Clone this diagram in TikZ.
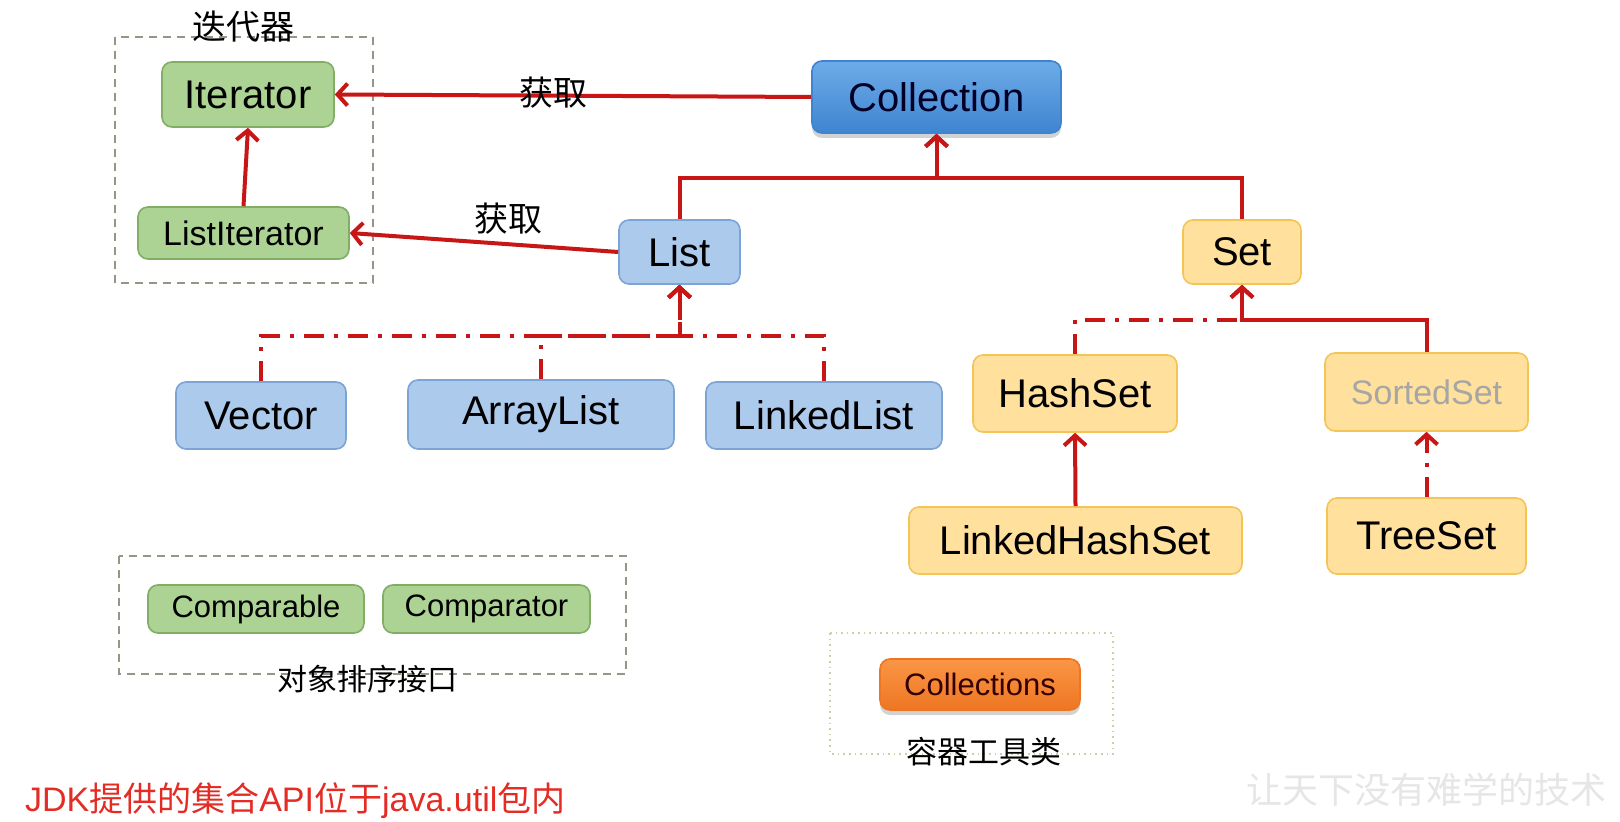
\documentclass[tikz,border=0pt]{standalone}
\usepackage{fontspec}
\setmainfont{Liberation Sans}
\newfontfamily\cjk{Noto Sans CJK SC}
\usetikzlibrary{arrows.meta,shadows}
\definecolor{linered}{RGB}{200,22,22}
\definecolor{grnfill}{RGB}{172,210,148}
\definecolor{grnline}{RGB}{128,174,100}
\definecolor{blufill}{RGB}{172,202,236}
\definecolor{bluline}{RGB}{124,164,212}
\definecolor{colltop}{RGB}{110,172,232}
\definecolor{collbot}{RGB}{62,132,208}
\definecolor{yelfill}{RGB}{255,224,156}
\definecolor{yelline}{RGB}{244,196,86}
\definecolor{orgtop}{RGB}{250,150,70}
\definecolor{orgbot}{RGB}{238,118,34}
\definecolor{framegray}{RGB}{150,150,136}
\definecolor{frameolive}{RGB}{206,206,170}
\definecolor{notered}{RGB}{228,44,36}
\definecolor{markgray}{RGB}{230,230,230}
\begin{document}
\begin{tikzpicture}[x=0.5pt,y=-0.5pt]
    \tikzstyle{box}=[rounded corners=5pt, inner sep=0pt, line width=0.8pt]
    \tikzstyle{grn}=[box, fill=grnfill, draw=grnline]
    \tikzstyle{blu}=[box, fill=blufill, draw=bluline]
    \tikzstyle{yel}=[box, fill=yelfill, draw=yelline]
    \tikzstyle{arr}=[draw=linered, line width=2pt, -{Straight Barb[length=5pt,width=11pt]}]
    \tikzstyle{dd}=[dash pattern=on 10pt off 5pt on 2pt off 5pt]
    \tikzstyle{frame}=[draw=framegray, line width=0.7pt, dash pattern=on 4pt off 3pt]
    \tikzstyle{big}=[font=\fontsize{20pt}{24pt}\selectfont]
    \tikzstyle{mid}=[font=\fontsize{17pt}{20pt}\selectfont]
    \tikzstyle{sml}=[font=\fontsize{15.5pt}{18pt}\selectfont]
    \fill[white] (0,0) rectangle (1620,822);
    \useasboundingbox (0,0) rectangle (1620,822);
    % iterators
    \draw[frame] (115,37) rectangle (373,283);
    \node[mid] (itlabel) at (243,27) {\cjk 迭代器};
    \node[grn, big, minimum width=86pt, minimum height=32.5pt] (iter) at (248,94.5) {Iterator};
    \node[grn, mid, minimum width=105.5pt, minimum height=26pt] (listit) at (243.5,233) {ListIterator};
    \draw[arr] (listit.north) -- (iter.south);
    % top of the tree
    \node[box, big, top color=colltop, bottom color=collbot, draw=collbot,
      drop shadow={opacity=0.35, shadow xshift=0pt, shadow yshift=-2.5pt},
      minimum width=124.5pt, minimum height=36pt, text=black!85!blue] (coll) at (936.5,97) {Collection};
    \node[blu, big, minimum width=60.5pt, minimum height=32pt] (list) at (679.5,252) {List};
    \node[yel, big, minimum width=59pt, minimum height=32pt] (set) at (1242,252) {Set};
    \coordinate (jc) at (936.5,178);
    \draw[arr] (list.north) |- (jc) -- (coll.south);
    \draw[arr] (set.north) |- (jc) -- (coll.south);
    % getting iterators
    \draw[arr] (coll.west) -- (iter.east);
    \node[mid] (get1) at (553,93) {\cjk 获取};
    \draw[arr] (list.west) -- (listit.east);
    \node[mid] (get2) at (508,219) {\cjk 获取};
    % lists
    \node[blu, big, minimum width=85pt, minimum height=33.5pt] (vector) at (261,415.5) {Vector};
    \node[blu, big, minimum width=133pt, minimum height=34.5pt] (alist) at (541,414.5) {ArrayList};
    \node[blu, big, minimum width=118pt, minimum height=33.5pt] (llist) at (824,415.5) {LinkedList};
    \coordinate (jl) at (679.5,336);
    \draw[arr, dd] (vector.north) |- (jl) -- (list.south);
    \draw[arr, dd] (alist.north) |- (jl) -- (list.south);
    \draw[arr, dd] (llist.north) |- (jl) -- (list.south);
    % sets
    \node[yel, big, minimum width=102pt, minimum height=38.5pt] (hset) at (1075,393.5) {HashSet};
    \node[yel, mid, minimum width=101.5pt, minimum height=39pt, text=black!35] (sset) at (1426.5,392) {SortedSet};
    \node[yel, big, minimum width=166.5pt, minimum height=33.5pt] (lhset) at (1075.5,540.5) {LinkedHashSet};
    \node[yel, big, minimum width=99.5pt, minimum height=38pt] (tset) at (1426.5,536) {TreeSet};
    \coordinate (js) at (1242,320);
    \draw[arr, dd] (hset.north) |- (js) -- (set.south);
    \draw[arr] (sset.north) |- (js) -- (set.south);
    \draw[arr] (lhset.north) -- (hset.south);
    \draw[arr, dd] (tset.north) -- (sset.south);
    % ordering
    \draw[frame] (119,556) rectangle (626,674);
    \node[grn, sml, minimum width=108pt, minimum height=24pt] (cmpble) at (256,609) {Comparable};
    \node[grn, sml, minimum width=103.5pt, minimum height=24pt] (cmptor) at (486.5,609) {Comparator};
    \node[font=\fontsize{15pt}{18pt}\selectfont] (sortlabel) at (367,679) {\cjk 对象排序接口};
    % tools
    \draw[draw=frameolive, line width=0.8pt, dotted] (830,633) rectangle (1113,754);
    \node[box, sml, top color=orgtop, bottom color=orgbot, draw=orgbot,
      drop shadow={opacity=0.35, shadow xshift=0pt, shadow yshift=-2.5pt},
      minimum width=100pt, minimum height=25.5pt, text=black!80!red] (colls) at (980,684.5) {Collections};
    \node[sml] (toollabel) at (984,752) {\cjk 容器工具类};
    % notes
    \node[mid, anchor=west, text=notered] (note) at (18,801)
      {JDK{\cjk 提供的集合}API{\cjk 位于}java.util{\cjk 包内}};
    \node[font=\fontsize{18pt}{20pt}\cjk, text=markgray] (mark) at (1426,790) {让天下没有难学的技术};
  \end{tikzpicture}
\end{document}
